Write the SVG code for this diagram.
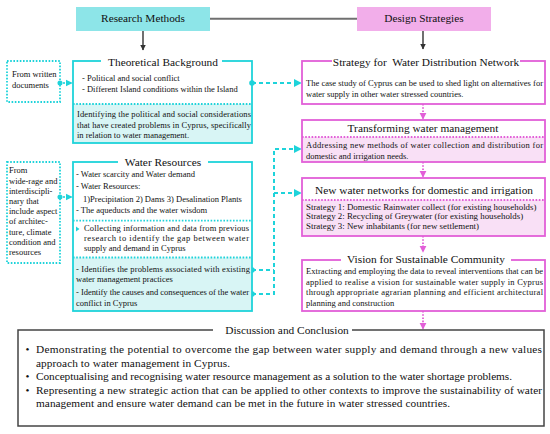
<svg xmlns="http://www.w3.org/2000/svg" width="550" height="434" viewBox="0 0 550 434" font-family="'Liberation Serif', 'DejaVu Serif', serif">
<defs>
<style>
text{font-family:'Liberation Serif','DejaVu Serif',serif;fill:#111}
.hd{font-size:11.3px;text-anchor:middle}
.tt{font-size:11.35px;text-anchor:middle}
.b{font-size:8.5px}
.sg{font-size:8.9px}
.bt{font-size:11.3px}
.cy{fill:none;stroke:#1ed3da;stroke-width:1.8}
.pk{fill:none;stroke:#e25fd8;stroke-width:1.8}
.cyd{fill:none;stroke:#1ed3da;stroke-width:1.8;stroke-dasharray:1.6 1.6}
.pkd{fill:none;stroke:#e25fd8;stroke-width:1.8;stroke-dasharray:1.6 1.6}
.cyl{fill:none;stroke:#1ed3da;stroke-width:2;stroke-dasharray:4 3}
.cyf{fill:#d8f5f5}
.pkf{fill:#f9e0f6}
.gap{fill:#fff}
</style>
<marker id="ac" viewBox="0 0 10 10" refX="9" refY="5" markerWidth="4" markerHeight="4" orient="auto"><path d="M0,0L10,5L0,10z" fill="#1ed3da"/></marker>
<marker id="ap" viewBox="0 0 10 10" refX="9" refY="5" markerWidth="4" markerHeight="4" orient="auto"><path d="M0,0L10,5L0,10z" fill="#e25fd8"/></marker>
<marker id="ak" viewBox="0 0 10 10" refX="9" refY="5" markerWidth="4" markerHeight="4" orient="auto"><path d="M0,0L10,5L0,10z" fill="#333"/></marker>
<marker id="dc" viewBox="0 0 10 10" refX="5" refY="5" markerWidth="3.5" markerHeight="3.5"><circle cx="5" cy="5" r="4" fill="#1ed3da"/></marker>
</defs>

<g id="connectors">
<line x1="210" y1="18.7" x2="357" y2="18.7" stroke="#707070" stroke-width="2"/>
<line x1="143" y1="31" x2="143" y2="50" stroke="#333" stroke-width="1.4" marker-end="url(#ak)"/>
<line x1="423" y1="31" x2="423" y2="49" stroke="#333" stroke-width="1.4" marker-end="url(#ak)"/>
<line class="cyd" x1="60" y1="83" x2="72" y2="83" marker-start="url(#dc)" marker-end="url(#ac)"/>
<line class="cyd" x1="60" y1="197" x2="72" y2="197" marker-start="url(#dc)" marker-end="url(#ac)"/>
<line class="cyl" x1="252" y1="83" x2="301" y2="83" marker-start="url(#dc)" marker-end="url(#ac)"/>
<polyline class="cyl" points="252,270 274,270" marker-start="url(#dc)"/>
<polyline class="cyl" points="252,294 274,294 274,149 301,149" marker-start="url(#dc)" marker-end="url(#ac)"/>
<line class="cyl" x1="274" y1="193" x2="301" y2="193" marker-end="url(#ac)"/>
<line class="pkd" x1="423" y1="104" x2="423" y2="119" marker-end="url(#ap)"/>
<line class="pkd" x1="423" y1="162" x2="423" y2="177" marker-end="url(#ap)"/>
<line class="pkd" x1="423" y1="236" x2="423" y2="252" marker-end="url(#ap)"/>
<line class="pkd" x1="423" y1="311" x2="423" y2="329" marker-end="url(#ap)"/>
</g>

<g id="research-methods">
<rect x="76" y="7" width="134" height="24" fill="#8de5e8"/>
<text class="hd" x="143" y="21.8">Research Methods</text>
</g>

<g id="design-strategies">
<rect x="357" y="7" width="134" height="24" fill="#f2aeea"/>
<text class="hd" x="424" y="21.8">Design Strategies</text>
</g>

<g id="from-written">
<rect class="cyd" x="7" y="61" width="53" height="41"/>
<text class="b" x="12" y="77">From written</text>
<text class="b" x="12" y="87.5">documents</text>
</g>

<g id="theoretical-background">
<rect class="cyf" x="73" y="104" width="179" height="39"/>
<rect class="cy" x="73" y="61" width="179" height="82"/>
<rect class="gap" x="101" y="55" width="121" height="10"/>
<text class="tt" x="163" y="65.5">Theoretical Background</text>
<text class="b" x="82" y="81">- Political and social conflict</text>
<text class="b" x="82" y="91.5">- Different Island conditions within the Island</text>
<line class="cyd" x1="73" y1="104" x2="252" y2="104"/>
<text class="b" x="77" y="117" textLength="174" lengthAdjust="spacing">Identifying the political and social considerations</text>
<text class="b" x="77" y="127.5" textLength="174" lengthAdjust="spacing">that have created problems in Cyprus, specifically</text>
<text class="b" x="77" y="138">in relation to water management.</text>
</g>

<g id="from-wide-range">
<rect class="cyd" x="7" y="162" width="53" height="101"/>
<text class="b" x="9" y="173.3">From</text>
<text class="b" x="9" y="183.5">wide-rage and</text>
<text class="b" x="9" y="193.7">interdiscipli-</text>
<text class="b" x="9" y="203.9">nary that</text>
<text class="b" x="9" y="214.1">include aspect</text>
<text class="b" x="9" y="224.3">of architec-</text>
<text class="b" x="9" y="234.5">ture, climate</text>
<text class="b" x="9" y="244.7">condition and</text>
<text class="b" x="9" y="254.9">resources</text>
</g>

<g id="water-resources">
<rect class="cyf" x="73" y="257.5" width="179" height="53.5"/>
<rect class="cy" x="73" y="162" width="179" height="149"/>
<rect class="gap" x="118" y="156" width="90" height="10"/>
<text class="tt" x="163" y="166">Water Resources</text>
<text class="b" x="76" y="176.5">- Water scarcity and Water demand</text>
<text class="b" x="76" y="189">- Water Resources:</text>
<text class="b" x="83" y="201.7">1)Precipitation 2) Dams 3) Desalination Plants</text>
<text class="b" x="76" y="213.3">- The aqueducts and the water wisdom</text>
<line class="cyd" x1="73" y1="220.7" x2="252" y2="220.7"/>
<path d="M76,226.5L79.5,229L76,231.5z" fill="#1ed3da"/>
<text class="b" x="84" y="230.5" textLength="165" lengthAdjust="spacing">Collecting information and data from previous</text>
<text class="b" x="84" y="240.7" textLength="165" lengthAdjust="spacing">research to identify the gap between water</text>
<text class="b" x="84" y="250.7">supply and demand in Cyprus</text>
<line class="cyd" x1="73" y1="257.5" x2="252" y2="257.5"/>
<text class="b" x="76" y="271.5" textLength="174" lengthAdjust="spacing">- Identifies the problems associated with existing</text>
<text class="b" x="76" y="281.7">water management practices</text>
<text class="b" x="76" y="295" textLength="173" lengthAdjust="spacing">- Identify the causes and consequences of the water</text>
<text class="b" x="76" y="305.7">conflict in Cyprus</text>
</g>

<g id="strategy-water-distribution">
<rect class="pk" x="302" y="61" width="243" height="43"/>
<rect class="gap" x="332" y="55" width="188" height="10"/>
<text class="tt" x="426" y="65.5" style="white-space:pre">Strategy for  Water Distribution Network</text>
<text class="b" x="306" y="86" textLength="237" lengthAdjust="spacing">The case study of Cyprus can be used to shed light on alternatives for</text>
<text class="b" x="306" y="96.5">water supply in other water stressed countries.</text>
</g>

<g id="transforming-water">
<rect class="pkf" x="302" y="137" width="243" height="25"/>
<rect class="pk" x="302" y="120" width="243" height="42"/>
<text class="tt" x="423" y="132">Transforming water management</text>
<line class="pkd" x1="302" y1="137" x2="545" y2="137"/>
<text class="b" x="306" y="148" textLength="237" lengthAdjust="spacing">Addressing new methods of water collection and distribution for</text>
<text class="b" x="306" y="158.5">domestic and irrigation needs.</text>
</g>

<g id="new-water-networks">
<rect class="pkf" x="302" y="200" width="243" height="36"/>
<rect class="pk" x="302" y="178" width="243" height="58"/>
<text class="tt" x="424" y="194">New water networks for domestic and irrigation</text>
<line class="pkd" x1="302" y1="200" x2="545" y2="200"/>
<text class="sg" x="306" y="210">Strategy 1: Domestic Rainwater collect (for existing households)</text>
<text class="sg" x="306" y="219.3">Strategy 2: Recycling of Greywater (for existing households)</text>
<text class="sg" x="306" y="228.6">Strategy 3: New inhabitants (for new settlement)</text>
</g>

<g id="vision-sustainable">
<rect class="pk" x="302" y="260" width="243" height="51"/>
<rect class="gap" x="341" y="254" width="170" height="10"/>
<text class="tt" x="426" y="262.5">Vision for Sustainable Community</text>
<text class="b" x="306" y="274" textLength="237" lengthAdjust="spacing">Extracting and employing the data to reveal interventions that can be</text>
<text class="b" x="306" y="284.5" textLength="237" lengthAdjust="spacing">applied to realise a vision for sustainable water supply in Cyprus</text>
<text class="b" x="306" y="295" textLength="237" lengthAdjust="spacing">through appropriate agrarian planning and efficient architectural</text>
<text class="b" x="306" y="305.5">planning and construction</text>
</g>

<g id="discussion-conclusion">
<rect x="18" y="330" width="526" height="96" fill="none" stroke="#444" stroke-width="1.5"/>
<rect class="gap" x="213" y="324" width="139" height="10"/>
<text class="tt" x="287" y="333.5">Discussion and Conclusion</text>
<text class="bt" x="25.5" y="353">•</text>
<text class="bt" x="36" y="353" textLength="506" lengthAdjust="spacing">Demonstrating the potential to overcome the gap between water supply and demand through a new values</text>
<text class="bt" x="36" y="366.5" textLength="194" lengthAdjust="spacing">approach to water management in Cyprus.</text>
<text class="bt" x="25.5" y="380">•</text>
<text class="bt" x="36" y="380" textLength="476" lengthAdjust="spacing">Conceptualising and recognising water resource management as a solution to the water shortage problems.</text>
<text class="bt" x="25.5" y="393.5">•</text>
<text class="bt" x="36" y="393.5" textLength="506" lengthAdjust="spacing">Representing a new strategic action that can be applied to other contexts to improve the sustainability of water</text>
<text class="bt" x="36" y="407" textLength="414" lengthAdjust="spacing">management and ensure water demand can be met in the future in water stressed countries.</text>
</g>
</svg>
